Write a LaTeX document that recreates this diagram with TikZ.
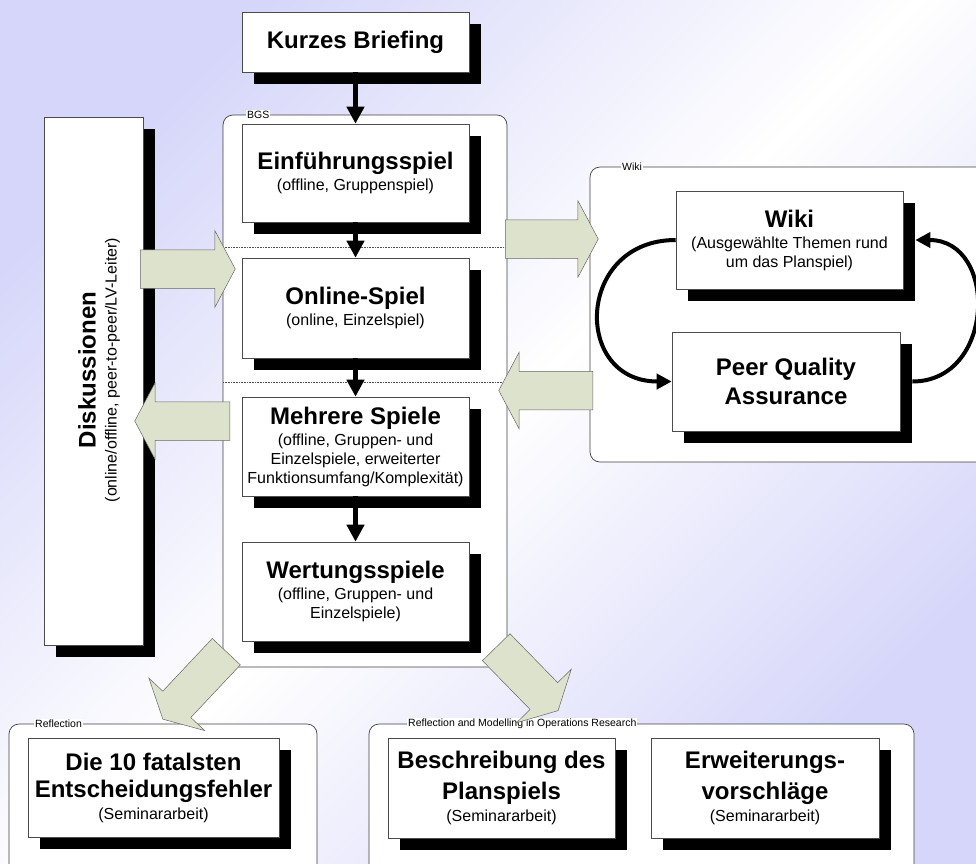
\documentclass[tikz,border=0pt]{standalone}
\usepackage{fontspec}
\setmainfont{Liberation Sans}
\usetikzlibrary{calc, shadows, shapes.arrows, arrows.meta}
\definecolor{sage}{RGB}{221,226,204}
\definecolor{lav}{RGB}{214,214,250}
\tikzset{>=latex}
\newcommand{\ttl}[1]{{\fontsize{24}{28}\selectfont\bfseries #1}}
\newcommand{\fatarrow}[2]{%
  \path let \p1=($(#2)-(#1)$), \n1={veclen(\x1,\y1)} in
    (#1) -- (#2) node[fat, pos=0, sloped, allow upside down, anchor=tail, minimum height=\n1] {};}

\begin{document}
\begin{tikzpicture}[x=1pt, y=-1pt,
  box/.style={draw=black!70, fill=white, line width=0.6pt, align=center, inner sep=2pt,
    minimum width=227pt, font=\fontsize{16}{19}\selectfont,
    drop shadow={shadow xshift=12pt, shadow yshift=-12pt, opacity=1, fill=black}},
  group/.style={draw=black!75, fill=white, rounded corners=10pt, line width=0.7pt},
  grouplabel/.style={fill=white, inner sep=1pt, anchor=west, font=\fontsize{10.5}{12}\selectfont},
  flow/.style={line width=4.5pt, -{Triangle[length=17pt, width=17pt]}},
  cyc/.style={line width=4pt, -{Triangle[length=15pt, width=15pt]}},
  fat/.style={single arrow, draw=black!60, fill=sage, line width=0.5pt, inner xsep=0pt, inner ysep=19pt,
    minimum width=76pt, single arrow head extend=19pt, single arrow tip angle=124},
  sep/.style={densely dotted, black!70, line width=0.6pt}]

\useasboundingbox (0,0) rectangle (976,863);
\clip (0,0) rectangle (976,863);
\shade[left color=lav, right color=lav, middle color=white, shading angle=45] (0,0) rectangle (976,863);

% groups
\draw[group] (223,115) rectangle (507,667);
\draw[group] (590,167) rectangle (1000,462);
\draw[group] (9,724) rectangle (317,890);
\draw[group] (369,724) rectangle (914,890);
\node[grouplabel] at (246,115) {BGS};
\node[grouplabel] at (621,167) {Wiki};
\node[grouplabel] at (34,724) {Reflection};
\node[grouplabel] at (407,724) {Reflection and Modelling in Operations Research};

\draw[sep] (223,247) -- (590,247);
\draw[sep] (223,382) -- (590,382);

% boxes
\node[box, minimum height=60pt] (brief) at (355.5,42) {\ttl{Kurzes Briefing}};
\node[box, minimum height=98pt] (intro) at (355.5,173) {\ttl{Einführungsspiel}\\[2pt](offline, Gruppenspiel)};
\node[box, minimum height=100pt] (online) at (355.5,308) {\ttl{Online-Spiel}\\[2pt](online, Einzelspiel)};
\node[box, minimum height=99pt] (multi) at (355.5,446.5) {\ttl{Mehrere Spiele}\\[2pt](offline, Gruppen- und\\Einzelspiele, erweiterter\\Funktionsumfang/Komplexität)};
\node[box, minimum height=99pt] (rating) at (355.5,591.5) {\ttl{Wertungsspiele}\\[2pt](offline, Gruppen- und\\Einzelspiele)};

\node[box, minimum width=99pt, minimum height=528pt] (disc) at (93.5,381) {};
\node[rotate=90, align=center, font=\fontsize{16}{19}\selectfont] (disctext) at (99,370) {\ttl{Diskussionen}\\[2pt](online/offline, peer-to-peer/LV-Leiter)};

\node[box, minimum height=98pt] (wiki) at (789.5,240) {\ttl{Wiki}\\[2pt](Ausgewählte Themen rund\\um das Planspiel)};
\node[box, minimum width=228pt, minimum height=99pt] (pqa) at (786,381.5) {\ttl{Peer Quality}\\[7pt]\ttl{Assurance}};

\node[box, minimum width=251pt, minimum height=99pt] (errors) at (153.5,787.5) {\ttl{Die 10 fatalsten}\\[8pt]\ttl{Entscheidungsfehler}\\[3pt](Seminararbeit)};
\node[box, minimum height=100pt] (descr) at (501.5,788) {\ttl{Beschreibung des}\\[8pt]\ttl{Planspiels}\\[3pt](Seminararbeit)};
\node[box, minimum width=228pt, minimum height=100pt] (ext) at (765,788) {\ttl{Erweiterungs-}\\[8pt]\ttl{vorschläge}\\[3pt](Seminararbeit)};

% flow
\draw[flow] (brief) -- (intro);
\draw[flow] (intro) -- (online);
\draw[flow] (online) -- (multi);
\draw[flow] (multi) -- (rating);

\draw[cyc] (wiki.west) to[out=180, in=180, looseness=1.8] (pqa.west);
\draw[cyc] ([xshift=12pt]pqa.east) to[out=0, in=0, looseness=1.5] ([xshift=12pt]wiki.east);

% big arrows
\coordinate (discOut) at (140,269);
\coordinate (bgsIn) at (235,269);
\coordinate (bgsOut) at (230,421);
\coordinate (discIn) at (135,421);
\coordinate (bgsRight) at (505,239);
\coordinate (wikiIn) at (598,239);
\coordinate (wikiOut) at (593,390.5);
\coordinate (bgsBack) at (499,390.5);
\coordinate (bgsLow) at (226.5,651.5);
\coordinate (reflIn) at (163,719);
\coordinate (bgsLowR) at (496,647);
\coordinate (ormIn) at (558,710.5);
\fatarrow{discOut}{bgsIn}
\fatarrow{bgsOut}{discIn}
\fatarrow{bgsRight}{wikiIn}
\fatarrow{wikiOut}{bgsBack}
\fatarrow{bgsLow}{reflIn}
\fatarrow{bgsLowR}{ormIn}
\end{tikzpicture}
\end{document}
